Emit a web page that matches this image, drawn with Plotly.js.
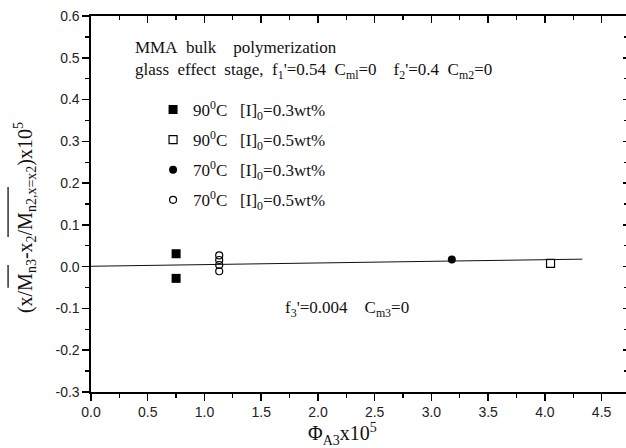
<!DOCTYPE html>
<html>
<head>
<meta charset="utf-8">
<script src="https://cdn.plot.ly/plotly-3.0.1.min.js"></script>
<style>html,body{margin:0;padding:0;background:#fff;}#chart{width:626px;height:448px;}</style>
</head>
<body>
<div id="chart"></div>
<script>
// ---- data ----
const sq90_03_x = [0.75, 0.75];
const sq90_03_y = [0.031, -0.028];
const sq90_05_x = [4.05];
const sq90_05_y = [0.008];
const ci70_03_x = [3.18];
const ci70_03_y = [0.017];
const ci70_05_x = [1.13, 1.13, 1.13, 1.13];
const ci70_05_y = [0.027, 0.016, 0.004, -0.011];
const fit_x = [0, 4.33];
const fit_y = [0.001, 0.018];

const legendNames = [
  '90<sup>0</sup>C\u00a0\u00a0\u00a0[I]<sub>0</sub>=0.3wt%',
  '90<sup>0</sup>C\u00a0\u00a0\u00a0[I]<sub>0</sub>=0.5wt%',
  '70<sup>0</sup>C\u00a0\u00a0\u00a0[I]<sub>0</sub>=0.3wt%',
  '70<sup>0</sup>C\u00a0\u00a0\u00a0[I]<sub>0</sub>=0.5wt%'
];
const xTickVals = [0, 0.5, 1, 1.5, 2, 2.5, 3, 3.5, 4, 4.5];
const yTickVals = [-0.3, -0.2, -0.1, 0, 0.1, 0.2, 0.3, 0.4, 0.5, 0.6];

const serif = 'Liberation Serif, Times New Roman, serif';
const sans = 'Liberation Sans, Arial, sans-serif';

const traces = [
  {x: fit_x, y: fit_y, mode: 'lines', line: {color: '#111', width: 1}, showlegend: false, hoverinfo: 'skip', xaxis: 'x2', yaxis: 'y2'},
  {x: sq90_03_x, y: sq90_03_y, mode: 'markers', name: legendNames[0], legendgroup: 'a',
   marker: {symbol: 'square', size: 9, color: '#000', line: {width: 0}}},
  {x: sq90_05_x, y: sq90_05_y, mode: 'markers', name: legendNames[1], legendgroup: 'b',
   marker: {symbol: 'square-open', size: 8, color: '#000', line: {width: 1.2}}},
  {x: ci70_03_x, y: ci70_03_y, mode: 'markers', name: legendNames[2], legendgroup: 'c',
   marker: {symbol: 'circle', size: 8, color: '#000', line: {width: 0}}},
  {x: ci70_05_x, y: ci70_05_y, mode: 'markers', name: legendNames[3], legendgroup: 'd',
   marker: {symbol: 'circle-open', size: 7, color: '#000', line: {width: 1.2}}}
];

const axisCommon = {
  showgrid: false, zeroline: false, linecolor: '#000', linewidth: 1.6,
  tickcolor: '#000', tickwidth: 1.5, tickfont: {family: sans, size: 14, color: '#222'}
};

const layout = {
  width: 626, height: 448,
  margin: {l: 91, r: 0, t: 16, b: 56},
  paper_bgcolor: '#fff', plot_bgcolor: '#fff',
  showlegend: true,
  legend: {x: 0.116, y: 0.798, xanchor: 'left', yanchor: 'top', bgcolor: 'rgba(0,0,0,0)',
           font: {family: serif, size: 17, color: '#111'}, tracegroupgap: 5, itemwidth: 30},
  xaxis: Object.assign({}, axisCommon, {
    range: [0, 4.715], tickvals: xTickVals, ticktext: xTickVals.map(v => v.toFixed(1)),
    ticks: 'outside', ticklen: 7, showline: true,
    minor: {ticks: 'outside', ticklen: 4, dtick: 0.25, tick0: 0, tickcolor: '#000', tickwidth: 1.3}
  }),
  yaxis: Object.assign({}, axisCommon, {
    range: [-0.3, 0.6], tickvals: yTickVals, ticktext: yTickVals.map(v => v.toFixed(1)),
    ticks: 'outside', ticklen: 7, showline: true,
    minor: {ticks: 'outside', ticklen: 4, dtick: 0.05, tick0: 0, tickcolor: '#000', tickwidth: 1.3}
  }),
  xaxis2: Object.assign({}, axisCommon, {
    overlaying: 'x', side: 'top', anchor: 'y', matches: 'x', showticklabels: false,
    tickvals: xTickVals, ticks: 'inside', ticklen: 7, showline: true,
    minor: {ticks: 'inside', ticklen: 4, dtick: 0.25, tick0: 0, tickcolor: '#000', tickwidth: 1.3}
  }),
  yaxis2: Object.assign({}, axisCommon, {
    overlaying: 'y', side: 'right', anchor: 'x', matches: 'y', showticklabels: false,
    tickvals: yTickVals, ticks: 'inside', ticklen: 3, showline: false,
    minor: {ticks: 'inside', ticklen: 2, dtick: 0.05, tick0: 0, tickcolor: '#000', tickwidth: 1.3}
  }),
  annotations: [
    {xref: 'paper', yref: 'paper', x: 0.079, y: 0.915, xanchor: 'left', yanchor: 'middle', showarrow: false,
     text: 'MMA\u00a0\u00a0bulk\u00a0\u00a0\u00a0\u00a0polymerization', font: {family: serif, size: 17, color: '#111'}},
    {xref: 'paper', yref: 'paper', x: 0.079, y: 0.853, xanchor: 'left', yanchor: 'middle', showarrow: false,
     text: 'glass\u00a0\u00a0effect\u00a0\u00a0stage,\u00a0\u00a0f<sub>1</sub>\'=0.54\u00a0\u00a0C<sub>ml</sub>=0\u00a0\u00a0\u00a0\u00a0f<sub>2</sub>\'=0.4\u00a0\u00a0C<sub>m2</sub>=0',
     font: {family: serif, size: 17, color: '#111'}},
    {xref: 'paper', yref: 'paper', x: 0.358, y: 0.22, xanchor: 'left', yanchor: 'middle', showarrow: false,
     text: 'f<sub>3</sub>\'=0.004\u00a0\u00a0\u00a0\u00a0C<sub>m3</sub>=0', font: {family: serif, size: 17, color: '#111'}},
    {xref: 'paper', yref: 'paper', x: 0.471, y: -0.112, xanchor: 'center', yanchor: 'middle', showarrow: false,
     text: '\u03a6<sub>A3</sub>x10<sup>5</sup>', font: {family: serif, size: 20, color: '#111'}},
    {xref: 'paper', yref: 'paper', x: -0.123, y: 0.463, xanchor: 'center', yanchor: 'middle', showarrow: false, textangle: -90,
     text: '(x/M<sub>n3</sub>-x<sub>2</sub>/M<sub>n2,x=x2</sub>)x10<sup>5</sup>', font: {family: serif, size: 20, color: '#111'}}
  ],
  shapes: [
    {type: 'line', xref: 'paper', yref: 'paper', x0: -0.155, x1: -0.155, y0: 0.277, y1: 0.338, line: {color: '#111', width: 1.3}},
    {type: 'line', xref: 'paper', yref: 'paper', x0: -0.155, x1: -0.155, y0: 0.412, y1: 0.545, line: {color: '#111', width: 1.3}}
  ]
};

Plotly.newPlot('chart', traces, layout, {displayModeBar: false, staticPlot: true});
</script>
</body>
</html>
